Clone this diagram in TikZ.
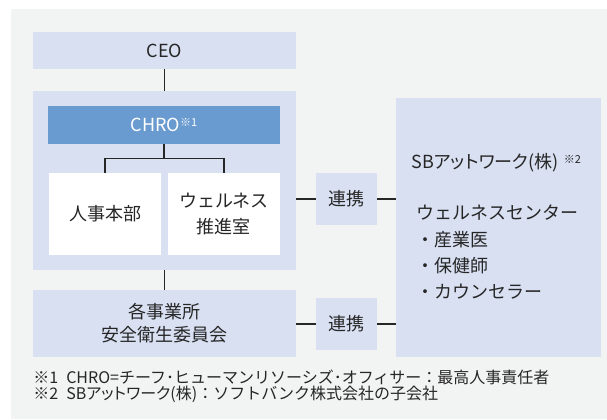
\documentclass[tikz,border=0pt]{standalone}
\usepackage{fontspec}
\setmainfont{Noto Sans CJK JP}
\newfontfamily\paltfont[RawFeature=+palt]{Noto Sans CJK JP}
\usepackage{xcolor}
\usetikzlibrary{positioning}
\definecolor{orgGray}{RGB}{242,243,243}
\definecolor{orgPale}{RGB}{216,224,242}
\definecolor{orgBlue}{RGB}{106,155,208}
\definecolor{orgInk}{RGB}{38,38,38}
\newcommand{\kome}[1]{\raisebox{0.55ex}{\fontsize{5.5}{6}\selectfont ※#1}}

\begin{document}
\begin{tikzpicture}[
  x=0.5pt,y=-0.5pt,
  every node/.style={font=\fontsize{9}{14}\selectfont,text=orgInk},
  pale/.style={fill=orgPale,inner sep=0pt,align=center},
  whitebox/.style={fill=white,inner sep=0pt,align=center,minimum width=56pt,minimum height=41pt},
  linkbox/.style={pale,minimum width=30.5pt,minimum height=26pt},
  link/.style={draw=orgInk,line width=0.6pt},
  note/.style={anchor=west,inner sep=0pt,font=\fontsize{8}{10}\selectfont}
]
  \useasboundingbox (0,0) rectangle (607,419);
  \fill[orgGray] (11,9) rectangle (607,419);

  % Left column.
  \node[pale,minimum width=131.5pt,minimum height=18.5pt] (ceo) at (164.5,50.5) {CEO};
  \node[pale,minimum width=131.5pt,minimum height=89.5pt] (hrgroup) at (164.5,180.5) {};
  \node[fill=orgBlue,inner sep=0pt,minimum width=116pt,minimum height=19pt,text=white] (chro) at (164,125) {CHRO\kome{1}};
  \node[whitebox] (hq) at (105,214) {人事本部};
  \node[whitebox] (wellness) at (224,214) {ウェルネス\\[-1pt]推進室};
  \node[pale,minimum width=131.5pt,minimum height=33.5pt,font=\fontsize{9}{11.5}\selectfont] (safety) at (164.5,323.5) {各事業所\\安全衛生委員会};

  % Right column.
  \node[pale,minimum width=102.5pt,minimum height=129.5pt] (sbat) at (498.5,227.5) {};
  \node[anchor=west,inner sep=0pt] (sbname) at (411,163) {{\paltfont SBアットワーク(株)}\;\kome{2}};
  \node[anchor=west,inner sep=0pt] (center) at (416,213) {ウェルネスセンター};
  \node[anchor=west,inner sep=0pt] (doctor) at (416,240) {・産業医};
  \node[anchor=west,inner sep=0pt] (nurse) at (416,266) {・保健師};
  \node[anchor=west,inner sep=0pt] (counsel) at (416,292) {・カウンセラー};

  \node[linkbox] (linkA) at (346.5,199) {連携};
  \node[linkbox] (linkB) at (346.5,324) {連携};

  % Reporting lines.
  \draw[link] (ceo.south) -- (hrgroup.north);
  \draw[link] (hrgroup.south) -- (safety.north);
  \draw[link] (chro.south) -- ++(0,14) coordinate (fork);
  \draw[link] (fork) -| (hq.north);
  \draw[link] (fork) -| (wellness.north);

  % Cooperation lines.
  \draw[link] (linkA.west -| hrgroup.east) -- (linkA.west);
  \draw[link] (linkA.east) -- (linkA.east -| sbat.west);
  \draw[link] (linkB.west -| safety.east) -- (linkB.west);
  \draw[link] (linkB.east) -- (linkB.east -| sbat.west);

  \node[note] (noteA) at (33,377) {※1\enspace CHRO=チーフ･ヒューマンリソーシズ･オフィサー：最高人事責任者};
  \node[note] (noteB) at (33,394) {※2\enspace{\paltfont SBアットワーク(株)}：ソフトバンク株式会社の子会社};
\end{tikzpicture}
\end{document}
